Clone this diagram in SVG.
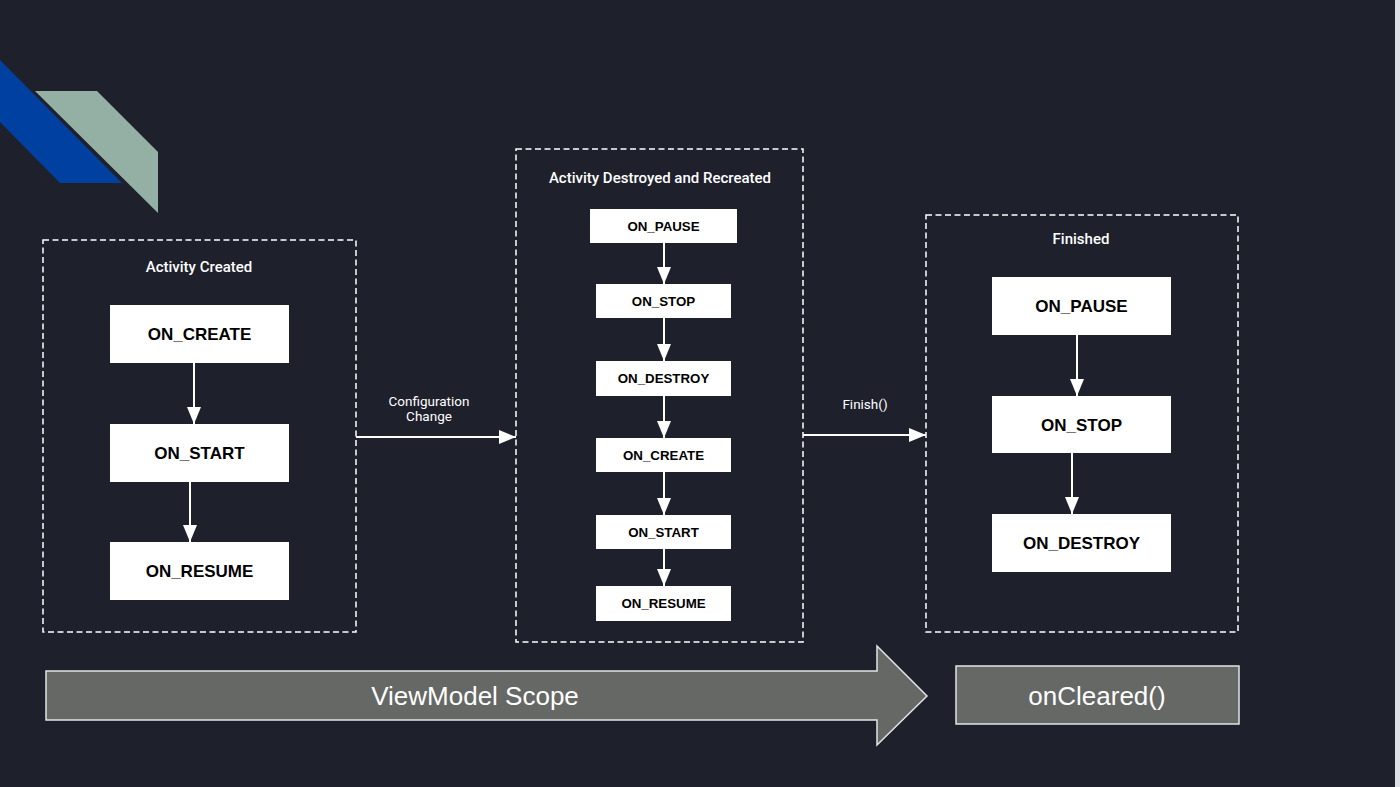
<svg xmlns="http://www.w3.org/2000/svg" width="1400" height="787" viewBox="0 0 1400 787">
  <defs>
    <marker id="ah" markerUnits="userSpaceOnUse" markerWidth="18" markerHeight="14" refX="17" refY="7" orient="auto">
      <path d="M0,0 L17,7 L0,14 z" fill="#ffffff"/>
    </marker>
    <style>
      .bg { fill: #1e202c; }
      .group { fill: none; stroke: #ffffff; stroke-width: 1.5; stroke-dasharray: 6 3.5; }
      .title { font-family: Roboto, "Liberation Sans", sans-serif; font-weight: 500; font-size: 15px; fill: #ffffff; text-anchor: middle; }
      .lbl { font-family: Roboto, "Liberation Sans", sans-serif; font-size: 13.5px; fill: #ffffff; text-anchor: middle; }
      .box { fill: #ffffff; }
      .big { font-family: "Liberation Sans", Arial, sans-serif; font-weight: bold; font-size: 17px; fill: #000000; text-anchor: middle; }
      .small { font-family: "Liberation Sans", Arial, sans-serif; font-weight: bold; font-size: 13.3px; fill: #000000; text-anchor: middle; }
      .conn { stroke: #ffffff; stroke-width: 2; fill: none; marker-end: url(#ah); }
      .scope { fill: #666866; stroke: #dfe6e3; stroke-width: 1.5; }
      .scopetxt { font-family: "Liberation Sans", Arial, sans-serif; font-size: 26px; fill: #ffffff; text-anchor: middle; }
    </style>
  </defs>

  <rect class="bg" x="0" y="0" width="1400" height="787"/>
  <rect x="1395" y="0" width="5" height="787" fill="#dde1e5"/>

  <!-- decoration -->
  <polygon points="0,60 122,183 60,183 0,122" fill="#0040a0"/>
  <polygon points="35,91 97,91 158,152 158,213" fill="#94b0a4"/>

  <!-- Activity Created -->
  <g id="group-created">
    <rect class="group" x="43" y="240" width="313" height="392"/>
    <text class="title" x="199" y="272">Activity Created</text>
  </g>
  <g id="c-on-create">
    <rect class="box" x="110" y="305" width="179" height="58"/>
    <text class="big" x="199.5" y="340">ON_CREATE</text>
  </g>
  <g id="c-on-start">
    <rect class="box" x="110" y="424" width="179" height="58"/>
    <text class="big" x="199.5" y="459">ON_START</text>
  </g>
  <g id="c-on-resume">
    <rect class="box" x="110" y="542" width="179" height="58"/>
    <text class="big" x="199.5" y="577">ON_RESUME</text>
  </g>

  <!-- Activity Destroyed and Recreated -->
  <g id="group-recreated">
    <rect class="group" x="516" y="149" width="287" height="493"/>
    <text class="title" x="660" y="182.5">Activity Destroyed and Recreated</text>
  </g>
  <g id="r-on-pause">
    <rect class="box" x="590" y="209" width="147" height="34"/>
    <text class="small" x="663.5" y="230.7">ON_PAUSE</text>
  </g>
  <g id="r-on-stop">
    <rect class="box" x="596" y="284" width="135" height="34"/>
    <text class="small" x="663.5" y="305.7">ON_STOP</text>
  </g>
  <g id="r-on-destroy">
    <rect class="box" x="596" y="361" width="135" height="35"/>
    <text class="small" x="663.5" y="383.2">ON_DESTROY</text>
  </g>
  <g id="r-on-create">
    <rect class="box" x="596" y="438" width="135" height="34"/>
    <text class="small" x="663.5" y="459.7">ON_CREATE</text>
  </g>
  <g id="r-on-start">
    <rect class="box" x="596" y="515" width="135" height="34"/>
    <text class="small" x="663.5" y="536.7">ON_START</text>
  </g>
  <g id="r-on-resume">
    <rect class="box" x="596" y="586" width="135" height="35"/>
    <text class="small" x="663.5" y="608.2">ON_RESUME</text>
  </g>

  <!-- Finished -->
  <g id="group-finished">
    <rect class="group" x="926" y="215" width="312" height="417"/>
    <text class="title" x="1081" y="243.5">Finished</text>
  </g>
  <g id="f-on-pause">
    <rect class="box" x="992" y="277" width="179" height="58"/>
    <text class="big" x="1081.5" y="312">ON_PAUSE</text>
  </g>
  <g id="f-on-stop">
    <rect class="box" x="992" y="396" width="179" height="57"/>
    <text class="big" x="1081.5" y="430.5">ON_STOP</text>
  </g>
  <g id="f-on-destroy">
    <rect class="box" x="992" y="514" width="179" height="58"/>
    <text class="big" x="1081.5" y="549">ON_DESTROY</text>
  </g>

  <!-- connectors -->
  <g id="connectors">
    <line class="conn" x1="194" y1="363" x2="194" y2="424"/>
    <line class="conn" x1="190" y1="482" x2="190" y2="542"/>

    <line class="conn" x1="356" y1="437" x2="516" y2="437"/>
    <text class="lbl" x="429" y="405.5">Configuration</text>
    <text class="lbl" x="429" y="421">Change</text>

    <line class="conn" x1="664" y1="243" x2="664" y2="284"/>
    <line class="conn" x1="664" y1="318" x2="664" y2="361"/>
    <line class="conn" x1="664" y1="396" x2="664" y2="438"/>
    <line class="conn" x1="664" y1="472" x2="664" y2="515"/>
    <line class="conn" x1="664" y1="549" x2="664" y2="586"/>

    <line class="conn" x1="803" y1="435" x2="926" y2="435"/>
    <text class="lbl" x="865" y="409">Finish()</text>

    <line class="conn" x1="1077" y1="335" x2="1077" y2="396"/>
    <line class="conn" x1="1072" y1="453" x2="1072" y2="514"/>
  </g>

  <!-- ViewModel scope -->
  <g id="viewmodel-scope">
    <polygon class="scope" points="46,671 877,671 877,646 927,696 877,745 877,720 46,720"/>
    <text class="scopetxt" x="475" y="705">ViewModel Scope</text>
  </g>
  <g id="on-cleared">
    <rect class="scope" x="956" y="666" width="283" height="58"/>
    <text class="scopetxt" x="1097" y="704.5">onCleared()</text>
  </g>
</svg>
